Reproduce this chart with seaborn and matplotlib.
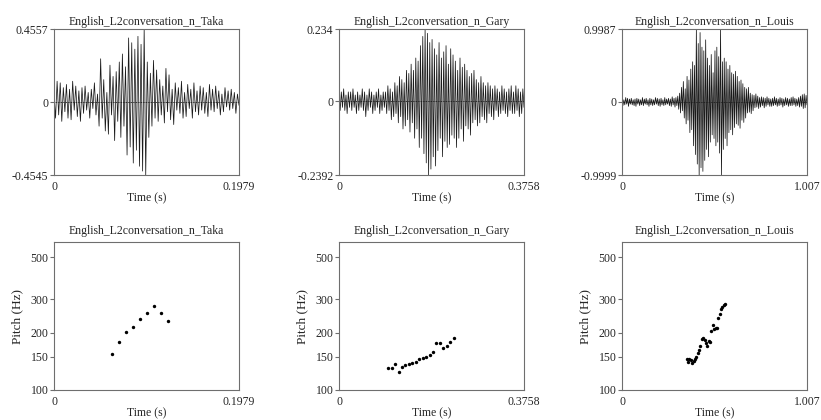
import numpy as np
import pandas as pd
import matplotlib
matplotlib.use("Agg")
import matplotlib.pyplot as plt
import seaborn as sns

sns.set_theme(style="white")
plt.rcParams['font.family'] = ['Liberation Serif', 'DejaVu Serif']

# ----------------------------------
# Data
# ----------------------------------
speakers = ["Taka", "Gary", "Louis"]
durations = [0.1979, 0.3758, 1.007]
wave_max = [0.4557, 0.234, 0.9987]
wave_min = [-0.4545, -0.2392, -0.9999]

# waveform peaks (alternating), evenly spread over each file's duration
wave_taka = [
    0.05, -0.10, 0.13, -0.08, 0.12, -0.12, 0.09, -0.06, 0.11, -0.10,
    0.08, -0.11, 0.13, -0.05, 0.10, -0.09, 0.07, -0.12, 0.09, -0.07,
    0.10, -0.05, 0.06, -0.10, 0.08, -0.04, 0.12, -0.08, 0.05, -0.15,
    0.27, -0.10, 0.14, -0.18, 0.06, -0.20, 0.23, -0.08, 0.16, -0.24,
    0.19, -0.12, 0.25, -0.22, 0.30, -0.15, 0.22, -0.33, 0.40, -0.28,
    0.37, -0.38, 0.33, -0.30, 0.41, -0.40, 0.36, -0.43, 0.4557, -0.4545,
    0.25, -0.22, 0.18, -0.15, 0.26, -0.10, 0.20, -0.12, 0.14, -0.08,
    0.10, -0.13, 0.21, -0.06, 0.17, -0.11, 0.08, -0.14, 0.12, -0.05,
    0.09, -0.07, 0.13, -0.10, 0.06, -0.09, 0.11, -0.04, 0.08, -0.10,
    0.12, -0.06, 0.07, -0.08, 0.10, -0.05, 0.09, -0.07, 0.06, -0.09,
    0.11, -0.05, 0.08, -0.06, 0.10, -0.04, 0.07, -0.08, 0.05, -0.06,
    0.09, -0.03, 0.07, -0.05, 0.08, -0.04, 0.06, -0.07, 0.05, -0.02,
]
wave_gary = [
    0.02, -0.03, 0.03, -0.02, 0.04, -0.03, 0.02, -0.04, 0.03, -0.02,
    0.03, -0.03, 0.04, -0.02, 0.02, -0.04, 0.03, -0.03, 0.02, -0.02,
    0.04, -0.03, 0.03, -0.05, 0.02, -0.03, 0.04, -0.02, 0.03, -0.04,
    0.02, -0.03, 0.03, -0.02, 0.04, -0.04, 0.02, -0.03, 0.03, -0.02,
    0.03, -0.04, 0.05, -0.03, 0.04, -0.06, 0.03, -0.05, 0.06, -0.04,
    0.05, -0.07, 0.08, -0.05, 0.07, -0.09, 0.06, -0.08, 0.10, -0.06,
    0.09, -0.10, 0.12, -0.07, 0.10, -0.12, 0.14, -0.09, 0.13, -0.15,
    0.18, -0.12, 0.21, -0.17, 0.234, -0.20, 0.22, -0.2392, 0.19, -0.22,
    0.20, -0.18, 0.17, -0.21, 0.15, -0.16, 0.19, -0.12, 0.14, -0.18,
    0.16, -0.13, 0.18, -0.15, 0.12, -0.14, 0.17, -0.11, 0.15, -0.12,
    0.13, -0.15, 0.10, -0.12, 0.14, -0.09, 0.11, -0.13, 0.12, -0.08,
    0.10, -0.09, 0.08, -0.11, 0.09, -0.07, 0.10, -0.06, 0.07, -0.08,
    0.06, -0.07, 0.08, -0.05, 0.06, -0.06, 0.05, -0.07, 0.06, -0.04,
    0.05, -0.05, 0.04, -0.06, 0.05, -0.03, 0.04, -0.05, 0.03, -0.04,
    0.05, -0.03, 0.04, -0.04, 0.03, -0.05, 0.04, -0.03, 0.05, -0.04,
    0.03, -0.04, 0.05, -0.03, 0.04, -0.05, 0.03, -0.04, 0.04, -0.02,
]
wave_louis = [
    0.04, -0.05, 0.03, -0.04, 0.06, -0.03, 0.05, -0.06, 0.04, -0.03,
    0.05, -0.04, 0.03, -0.05, 0.04, -0.06, 0.05, -0.03, 0.04, -0.05,
    0.03, -0.04, 0.06, -0.05, 0.04, -0.03, 0.05, -0.04, 0.03, -0.06,
    0.05, -0.04, 0.04, -0.05, 0.03, -0.04, 0.06, -0.03, 0.05, -0.05,
    0.04, -0.06, 0.05, -0.04, 0.03, -0.05, 0.06, -0.04, 0.04, -0.03,
    0.05, -0.05, 0.04, -0.06, 0.07, -0.04, 0.05, -0.07, 0.06, -0.05,
    0.08, -0.10, 0.12, -0.15, 0.20, -0.12, 0.28, -0.22, 0.18, -0.30,
    0.35, -0.25, 0.30, -0.42, 0.45, -0.38, 0.55, -0.60, 0.50, -0.72,
    0.9987, -0.85, 0.80, -0.9999, 0.95, -0.90, 0.75, -0.95, 0.70, -0.80,
    0.85, -0.65, 0.60, -0.75, 0.50, -0.55, 0.65, -0.45, 0.40, -0.50,
    0.70, -0.60, 0.75, -0.55, 0.62, -0.70, 0.9987, -0.9999, 0.55, -0.65,
    0.60, -0.50, 0.55, -0.60, 0.45, -0.42, 0.50, -0.38, 0.40, -0.45,
    0.38, -0.35, 0.42, -0.30, 0.35, -0.32, 0.28, -0.36, 0.30, -0.25,
    0.25, -0.28, 0.20, -0.22, 0.18, -0.15, 0.20, -0.14, 0.12, -0.16,
    0.10, -0.12, 0.09, -0.08, 0.11, -0.07, 0.08, -0.09, 0.06, -0.07,
    0.07, -0.05, 0.06, -0.08, 0.05, -0.06, 0.07, -0.04, 0.05, -0.06,
    0.04, -0.06, 0.05, -0.05, 0.07, -0.04, 0.05, -0.06, 0.04, -0.05,
    0.06, -0.04, 0.05, -0.07, 0.04, -0.05, 0.06, -0.04, 0.05, -0.06,
    0.04, -0.05, 0.06, -0.05, 0.07, -0.04, 0.05, -0.06, 0.04, -0.05,
    0.06, -0.07, 0.08, -0.06, 0.10, -0.09, 0.11, -0.08, 0.09, -0.04,
]

# pitch tracks (time in s, pitch in Hz)
pitch_t_taka = [0.0617, 0.0692, 0.0767, 0.0842, 0.0917, 0.0991, 0.1066, 0.1141, 0.1216]
pitch_hz_taka = [155, 178, 201, 215, 236, 253, 276, 253, 230]

pitch_t_gary = [0.100, 0.107, 0.114, 0.121, 0.128, 0.135, 0.142, 0.149, 0.156, 0.163,
                0.170, 0.177, 0.184, 0.191, 0.198, 0.205, 0.212, 0.219, 0.226, 0.233]
pitch_hz_gary = [130, 131, 137, 125, 132, 135, 137, 139, 141, 145,
                 147, 150, 153, 158, 176, 176, 167, 170, 179, 188]

pitch_t_louis = [0.352, 0.3595, 0.367, 0.3745, 0.382, 0.3895, 0.397, 0.4045, 0.412, 0.4195,
                 0.427, 0.4345, 0.442, 0.4495, 0.457, 0.4645, 0.472, 0.4795, 0.487, 0.4945,
                 0.502, 0.5095, 0.517, 0.5245, 0.532, 0.5395, 0.547, 0.5545, 0.562]
pitch_hz_louis = [146, 141, 145, 143, 139, 142, 146, 150, 156, 163,
                  170, 186, 188, 183, 176, 170, 180, 178, 205, 220,
                  210, 212, 211, 240, 252, 268, 274, 280, 284]

waves = [wave_taka, wave_gary, wave_louis]
pitch_t = [pitch_t_taka, pitch_t_gary, pitch_t_louis]
pitch_hz = [pitch_hz_taka, pitch_hz_gary, pitch_hz_louis]
pitch_ticks = [100, 150, 200, 300, 500]

# ----------------------------------
# Figure
# ----------------------------------
fig = plt.figure(figsize=(8.21, 4.20), dpi=100)
lefts = [54 / 821, 339 / 821, 622 / 821]
width = 185 / 821
frame_col = "#6e6e6e"
fs = 8.5

for i, name in enumerate(speakers):
    title = "English_L2conversation_n_" + name

    # --- waveform ---
    ax = fig.add_axes([lefts[i], 1 - 175 / 420, width, 146 / 420])
    vals = waves[i]
    wf = pd.DataFrame({"t": np.linspace(0, durations[i], len(vals)), "amp": vals})
    ax.axhline(0, color="black", lw=0.6, ls=(0, (1, 1)), zorder=1)
    sns.lineplot(data=wf, x="t", y="amp", ax=ax, color="#1a1a1a", lw=0.55, zorder=2)
    ax.set_xlim(0, durations[i])
    ax.set_ylim(wave_min[i], wave_max[i])
    ax.set_xticks([0, durations[i]])
    ax.set_xticklabels(["0", f"{durations[i]:g}"])
    ax.set_yticks([wave_min[i], 0, wave_max[i]])
    ax.set_yticklabels([f"{wave_min[i]:g}", "0", f"{wave_max[i]:g}"])
    ax.set_xlabel("Time (s)", fontsize=fs, labelpad=0)
    ax.set_ylabel("")
    ax.set_title(title, fontsize=fs, pad=3)

    # --- pitch ---
    ax2 = fig.add_axes([lefts[i], 1 - 390 / 420, width, 148 / 420])
    pt = pd.DataFrame({"t": pitch_t[i], "hz": pitch_hz[i]})
    sns.scatterplot(data=pt, x="t", y="hz", ax=ax2, color="black", s=6,
                    linewidth=0, marker="o")
    ax2.set_yscale("log")
    ax2.set_xlim(0, durations[i])
    ax2.set_ylim(100, 600)
    ax2.set_yticks(pitch_ticks)
    ax2.set_yticklabels([str(v) for v in pitch_ticks])
    ax2.minorticks_off()
    ax2.set_xticks([0, durations[i]])
    ax2.set_xticklabels(["0", f"{durations[i]:g}"])
    ax2.set_xlabel("Time (s)", fontsize=fs, labelpad=0)
    ax2.set_ylabel("Pitch (Hz)", fontsize=9.5, labelpad=5)
    ax2.set_title(title, fontsize=fs, pad=6)

    for a in (ax, ax2):
        for sp in a.spines.values():
            sp.set_color(frame_col)
            sp.set_linewidth(0.8)
        a.tick_params(axis="y", left=True, length=3, width=0.8, color=frame_col,
                      labelsize=fs, pad=1)
        a.tick_params(axis="x", bottom=False, length=0, labelsize=fs, pad=4)
        a.grid(False)

fig.savefig("out.png", dpi=100)
